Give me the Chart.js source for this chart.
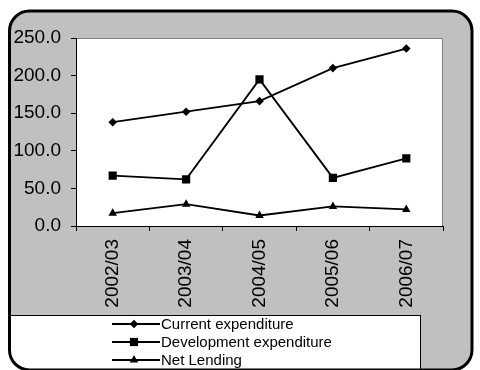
<!DOCTYPE html>
<html>
<head>
<meta charset="utf-8">
<script src="https://cdn.jsdelivr.net/npm/chart.js@4/dist/chart.umd.min.js"></script>
<style>
  html, body { margin: 0; padding: 0; background: #fff; }
  #wrap { width: 480px; height: 370px; }
</style>
</head>
<body>
<div id="wrap"><canvas id="c" width="480" height="370"></canvas></div>
<script>
// Expenditure by financial year
const categories = ['2002/03', '2003/04', '2004/05', '2005/06', '2006/07'];
const currentExpenditure = [138, 152, 166, 210, 236];
const developmentExpenditure = [67, 62, 195, 64, 90];
const netLending = [17, 29, 14, 26, 22];
const seriesNames = ['Current expenditure', 'Development expenditure', 'Net Lending'];
const yTicks = [0, 50, 100, 150, 200, 250];

const FONT = 'Liberation Sans, Arial, sans-serif';

function roundRectPath(ctx, x, y, w, h, r) {
  ctx.beginPath();
  ctx.moveTo(x + r, y);
  ctx.lineTo(x + w - r, y);
  ctx.arcTo(x + w, y, x + w, y + r, r);
  ctx.lineTo(x + w, y + h - r);
  ctx.arcTo(x + w, y + h, x + w - r, y + h, r);
  ctx.lineTo(x + r, y + h);
  ctx.arcTo(x, y + h, x, y + h - r, r);
  ctx.lineTo(x, y + r);
  ctx.arcTo(x, y, x + r, y, r);
  ctx.closePath();
}

function drawMarker(ctx, style, r, x, y) {
  ctx.beginPath();
  if (style === 'rectRot') {
    ctx.moveTo(x, y - r); ctx.lineTo(x + r, y); ctx.lineTo(x, y + r); ctx.lineTo(x - r, y);
  } else if (style === 'rect') {
    const s = r * Math.SQRT1_2;
    ctx.rect(x - s, y - s, 2 * s, 2 * s);
  } else if (style === 'triangle') {
    ctx.moveTo(x, y - r);
    ctx.lineTo(x + r * Math.sin(Math.PI / 3), y + r / 2);
    ctx.lineTo(x - r * Math.sin(Math.PI / 3), y + r / 2);
  }
  ctx.closePath();
  ctx.fill();
}

// Panel frame, plot background and the boxed legend underneath
const frame = {
  id: 'frame',
  beforeDraw(chart) {
    const { ctx, chartArea: a } = chart;
    ctx.save();
    ctx.fillStyle = '#ffffff';
    ctx.fillRect(0, 0, chart.width, chart.height);
    roundRectPath(ctx, 9.5, 11, 462.5, 359, 20);
    ctx.fillStyle = '#c0c0c0';
    ctx.fill();
    ctx.fillStyle = '#ffffff';
    ctx.fillRect(a.left, a.top, a.right - a.left, a.bottom - a.top);
    ctx.strokeStyle = '#808080';
    ctx.lineWidth = 1;
    ctx.beginPath();
    ctx.moveTo(a.left, a.top + 0.5);
    ctx.lineTo(a.right - 0.5, a.top + 0.5);
    ctx.lineTo(a.right - 0.5, a.bottom);
    ctx.stroke();
    ctx.restore();
  },
  afterDraw(chart) {
    const { ctx } = chart;
    ctx.save();
    roundRectPath(ctx, 9.5, 11, 462.5, 359, 20);
    ctx.clip();
    ctx.fillStyle = '#ffffff';
    ctx.fillRect(10, 316, 411, 60);
    ctx.strokeStyle = '#000000';
    ctx.lineWidth = 1;
    ctx.strokeRect(9.5, 315.5, 411, 60);
    ctx.restore();

    ctx.save();
    chart.data.datasets.forEach((ds, i) => {
      const y = 324 + 18 * i;
      ctx.strokeStyle = '#000';
      ctx.lineWidth = 1.8;
      ctx.beginPath();
      ctx.moveTo(112, y);
      ctx.lineTo(160, y);
      ctx.stroke();
      ctx.fillStyle = '#000';
      drawMarker(ctx, ds.pointStyle, ds.pointRadius, 134, y);
      ctx.font = '15px ' + FONT;
      ctx.textBaseline = 'middle';
      ctx.textAlign = 'left';
      ctx.fillText(ds.label, 161, y + 1);
    });
    ctx.restore();

    ctx.save();
    roundRectPath(ctx, 9.5, 11, 462.5, 359, 20);
    ctx.strokeStyle = '#000000';
    ctx.lineWidth = 3;
    ctx.stroke();
    ctx.restore();
  }
};

const styles = [
  { pointStyle: 'rectRot', pointRadius: 4.3 },
  { pointStyle: 'rect', pointRadius: 5.8 },
  { pointStyle: 'triangle', pointRadius: 4.9 }
];
const values = [currentExpenditure, developmentExpenditure, netLending];

new Chart(document.getElementById('c'), {
  type: 'line',
  data: {
    labels: categories,
    datasets: values.map((v, i) => ({
      label: seriesNames[i],
      data: v,
      borderColor: '#000',
      backgroundColor: '#000',
      borderWidth: 1.8,
      pointStyle: styles[i].pointStyle,
      pointRadius: styles[i].pointRadius,
      pointBorderWidth: 0,
      pointBackgroundColor: '#000',
      tension: 0,
      fill: false
    }))
  },
  options: {
    responsive: false,
    animation: false,
    devicePixelRatio: 1,
    layout: { padding: { left: 10, top: 38, right: 37, bottom: 54 } },
    plugins: { legend: { display: false }, tooltip: { enabled: false } },
    scales: {
      x: {
        offset: true,
        grid: { offset: true, drawOnChartArea: false, drawTicks: true, tickLength: 5, color: '#000', lineWidth: 1 },
        border: { display: true, color: '#000', width: 1 },
        ticks: { autoSkip: false, minRotation: 90, maxRotation: 90, padding: 8, color: '#000', font: { family: FONT, size: 19 } },
        afterFit: s => { s.height = 90; }
      },
      y: {
        min: yTicks[0],
        max: yTicks[yTicks.length - 1],
        afterBuildTicks: s => { s.ticks = yTicks.map(v => ({ value: v })); },
        grid: { drawOnChartArea: false, drawTicks: true, tickLength: 5, color: '#000', lineWidth: 1 },
        border: { display: true, color: '#000', width: 1 },
        ticks: { padding: 10, color: '#000', font: { family: FONT, size: 19 }, callback: v => Number(v).toFixed(1) },
        afterFit: s => { s.width = 66; }
      }
    }
  },
  plugins: [frame]
});
</script>
</body>
</html>
